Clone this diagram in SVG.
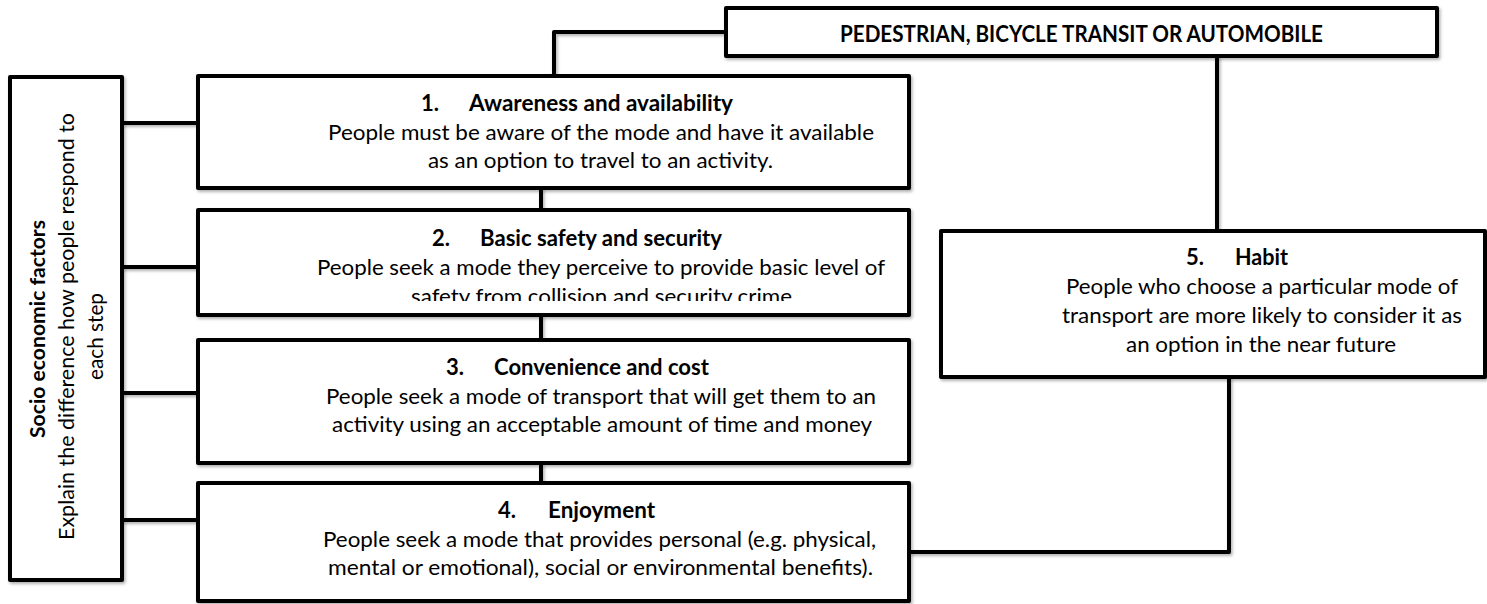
<svg xmlns="http://www.w3.org/2000/svg" width="1487" height="604" viewBox="0 0 1487 604">
  <style>
    .box { fill: #ffffff; stroke: #000000; stroke-width: 4; stroke-linejoin: round; filter: url(#soft); }
    .wire { fill: none; stroke: #000000; stroke-width: 4; stroke-linejoin: round; filter: url(#soft); }
    .t { font-family: Lato, "Open Sans", "Liberation Sans", sans-serif; font-size: 22px; fill: #000000; }
    .b { font-weight: bold; }
    .side { font-size: 21px; }
  </style>
  <defs>
    <!-- user-space region so zero-height line segments still get the shadow -->
    <filter id="soft" filterUnits="userSpaceOnUse" x="0" y="0" width="1487" height="604">
      <feDropShadow dx="1.5" dy="2" stdDeviation="1.5" flood-color="#000000" flood-opacity="0.3"/>
    </filter>
    <clipPath id="clip-step2">
      <rect x="200" y="212" width="707" height="89"/>
    </clipPath>
  </defs>

  <!-- connectors -->
  <g id="connectors">
    <path class="wire" d="M726,32 H554 V76"/>
    <path class="wire" d="M1217,56 V231"/>
    <path class="wire" d="M1229,377 V552 H909"/>
    <path class="wire" d="M541,188 V210"/>
    <path class="wire" d="M541,315 V340"/>
    <path class="wire" d="M541,463 V483"/>
    <path class="wire" d="M122,123 H198"/>
    <path class="wire" d="M122,267 H198"/>
    <path class="wire" d="M122,393 H198"/>
    <path class="wire" d="M122,520 H198"/>
  </g>

  <!-- travel mode header -->
  <g id="mode">
    <rect class="box" x="726" y="8" width="711" height="48"/>
    <text class="t b" x="840" y="42" textLength="483" lengthAdjust="spacingAndGlyphs">PEDESTRIAN, BICYCLE TRANSIT OR AUTOMOBILE</text>
  </g>

  <!-- socio economic factors (vertical label) -->
  <g id="socio">
    <rect class="box" x="10" y="77" width="112" height="503"/>
    <text class="t side b" transform="translate(45,329) rotate(-90)" text-anchor="middle" textLength="218" lengthAdjust="spacingAndGlyphs">Socio economic factors</text>
    <text class="t side" transform="translate(74,326.5) rotate(-90)" text-anchor="middle" textLength="427" lengthAdjust="spacingAndGlyphs">Explain the difference how people respond to</text>
    <text class="t side" transform="translate(103,336.5) rotate(-90)" text-anchor="middle" textLength="87" lengthAdjust="spacingAndGlyphs">each step</text>
  </g>

  <!-- step 1 -->
  <g id="step1">
    <rect class="box" x="198" y="76" width="711" height="112"/>
    <text class="t b" x="421" y="111">1.</text>
    <text class="t b" x="469" y="111" textLength="264" lengthAdjust="spacingAndGlyphs">Awareness and availability</text>
    <text class="t" x="328" y="140" textLength="546" lengthAdjust="spacingAndGlyphs">People must be aware of the mode and have it available</text>
    <text class="t" x="428" y="168" textLength="345" lengthAdjust="spacingAndGlyphs">as an option to travel to an activity.</text>
  </g>

  <!-- step 2 -->
  <g id="step2">
    <rect class="box" x="198" y="210" width="711" height="105"/>
    <g clip-path="url(#clip-step2)">
      <text class="t b" x="432" y="246">2.</text>
      <text class="t b" x="480" y="246" textLength="242" lengthAdjust="spacingAndGlyphs">Basic safety and security</text>
      <text class="t" x="317" y="275" textLength="568" lengthAdjust="spacingAndGlyphs">People seek a mode they perceive to provide basic level of</text>
      <text class="t" x="411" y="304" textLength="381" lengthAdjust="spacingAndGlyphs">safety from collision and security crime</text>
    </g>
  </g>

  <!-- step 3 -->
  <g id="step3">
    <rect class="box" x="198" y="340" width="711" height="123"/>
    <text class="t b" x="446" y="375">3.</text>
    <text class="t b" x="494" y="375" textLength="215" lengthAdjust="spacingAndGlyphs">Convenience and cost</text>
    <text class="t" x="326" y="404" textLength="550" lengthAdjust="spacingAndGlyphs">People seek a mode of transport that will get them to an</text>
    <text class="t" x="332" y="432" textLength="540" lengthAdjust="spacingAndGlyphs">activity using an acceptable amount of time and money</text>
  </g>

  <!-- step 4 -->
  <g id="step4">
    <rect class="box" x="198" y="483" width="711" height="118"/>
    <text class="t b" x="498" y="518">4.</text>
    <text class="t b" x="548" y="518" textLength="107" lengthAdjust="spacingAndGlyphs">Enjoyment</text>
    <text class="t" x="323" y="547" textLength="553" lengthAdjust="spacingAndGlyphs">People seek a mode that provides personal (e.g. physical,</text>
    <text class="t" x="328" y="575" textLength="545" lengthAdjust="spacingAndGlyphs">mental or emotional), social or environmental benefits).</text>
  </g>

  <!-- step 5 -->
  <g id="step5">
    <rect class="box" x="941" y="231" width="544" height="146"/>
    <text class="t b" x="1186" y="265">5.</text>
    <text class="t b" x="1235" y="265" textLength="53" lengthAdjust="spacingAndGlyphs">Habit</text>
    <text class="t" x="1066" y="294" textLength="392" lengthAdjust="spacingAndGlyphs">People who choose a particular mode of</text>
    <text class="t" x="1062" y="323" textLength="400" lengthAdjust="spacingAndGlyphs">transport are more likely to consider it as</text>
    <text class="t" x="1126" y="352" textLength="270" lengthAdjust="spacingAndGlyphs">an option in the near future</text>
  </g>
</svg>
